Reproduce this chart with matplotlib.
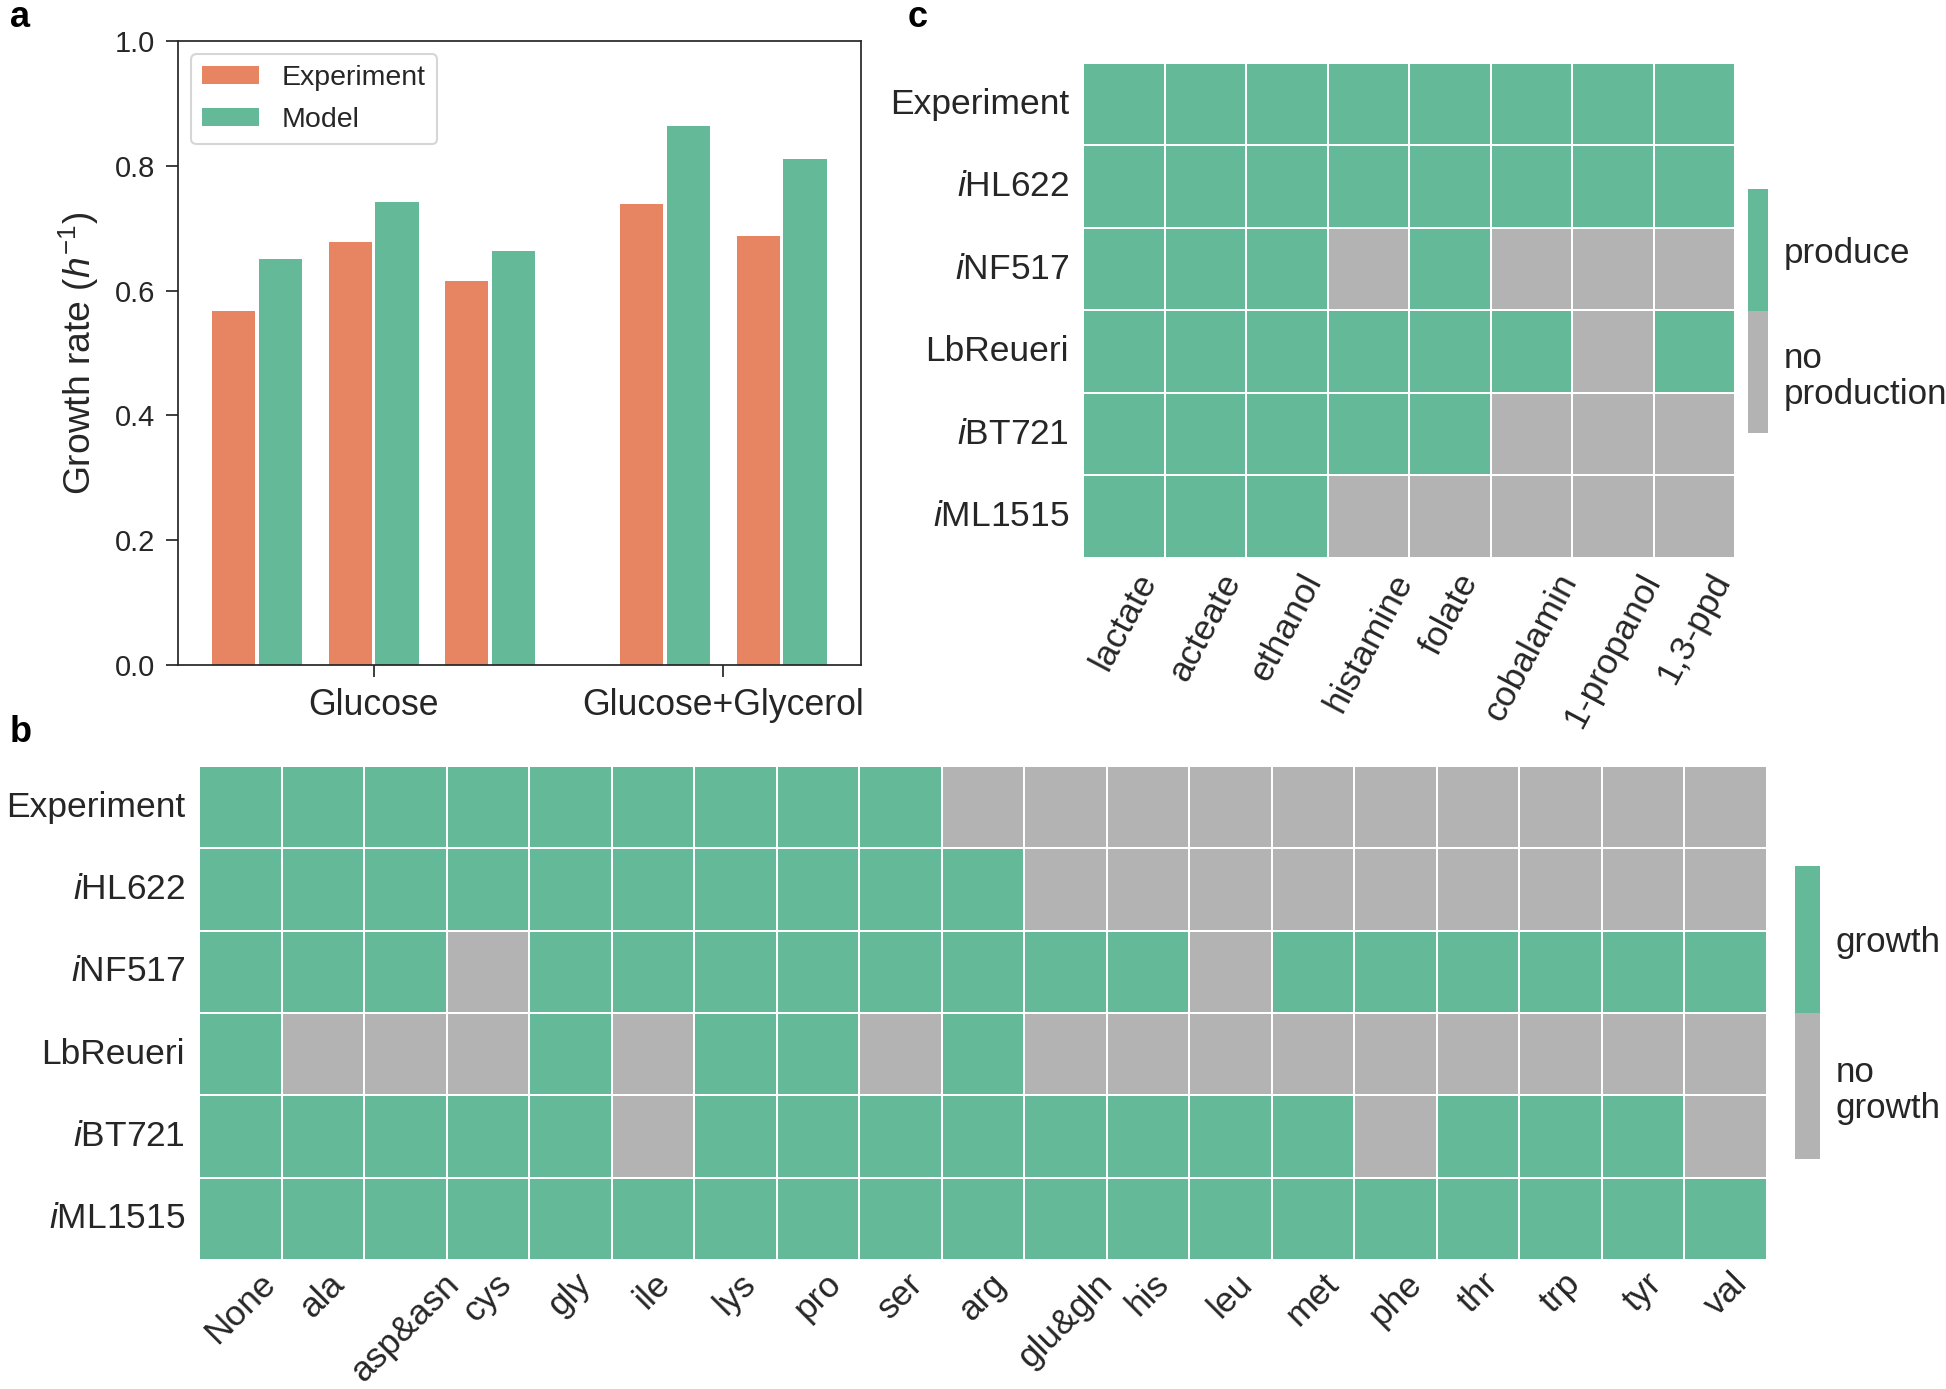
import numpy as np
import matplotlib
matplotlib.use("Agg")
import matplotlib.pyplot as plt
from matplotlib.colors import ListedColormap

plt.rcParams['font.family'] = ['Liberation Sans', 'DejaVu Sans']
plt.rcParams['mathtext.fontset'] = 'custom'
plt.rcParams['mathtext.rm'] = 'Liberation Sans'
plt.rcParams['mathtext.it'] = 'Liberation Sans:italic'
plt.rcParams['mathtext.bf'] = 'Liberation Sans:bold'
plt.rcParams['text.color'] = '0.15'
plt.rcParams['axes.labelcolor'] = '0.15'
plt.rcParams['xtick.color'] = '0.15'
plt.rcParams['ytick.color'] = '0.15'

# ---------------- data ----------------
conditions = ['Glucose', 'Glucose+Glycerol']
pair_condition = ['Glucose', 'Glucose', 'Glucose', 'Glucose+Glycerol', 'Glucose+Glycerol']
experiment = [0.567, 0.678, 0.616, 0.738, 0.688]
model = [0.650, 0.742, 0.664, 0.863, 0.811]
series_labels = ['Experiment', 'Model']

model_rows = ['Experiment', r'$\mathit{i}$HL622', r'$\mathit{i}$NF517', 'LbReueri',
              r'$\mathit{i}$BT721', r'$\mathit{i}$ML1515']

aa_cols = ['None', 'ala', 'asp&asn', 'cys', 'gly', 'ile', 'lys', 'pro', 'ser', 'arg',
           'glu&gln', 'his', 'leu', 'met', 'phe', 'thr', 'trp', 'tyr', 'val']
growth = [
    [1, 1, 1, 1, 1, 1, 1, 1, 1, 0, 0, 0, 0, 0, 0, 0, 0, 0, 0],
    [1, 1, 1, 1, 1, 1, 1, 1, 1, 1, 0, 0, 0, 0, 0, 0, 0, 0, 0],
    [1, 1, 1, 0, 1, 1, 1, 1, 1, 1, 1, 1, 0, 1, 1, 1, 1, 1, 1],
    [1, 0, 0, 0, 1, 0, 1, 1, 0, 1, 0, 0, 0, 0, 0, 0, 0, 0, 0],
    [1, 1, 1, 1, 1, 0, 1, 1, 1, 1, 1, 1, 1, 1, 0, 1, 1, 1, 0],
    [1, 1, 1, 1, 1, 1, 1, 1, 1, 1, 1, 1, 1, 1, 1, 1, 1, 1, 1],
]
growth_labels = ['no\ngrowth', 'growth']

met_cols = ['lactate', 'acteate', 'ethanol', 'histamine', 'folate', 'cobalamin',
            '1-propanol', '1,3-ppd']
production = [
    [1, 1, 1, 1, 1, 1, 1, 1],
    [1, 1, 1, 1, 1, 1, 1, 1],
    [1, 1, 1, 0, 1, 0, 0, 0],
    [1, 1, 1, 1, 1, 1, 0, 1],
    [1, 1, 1, 1, 1, 0, 0, 0],
    [1, 1, 1, 0, 0, 0, 0, 0],
]
production_labels = ['no\nproduction', 'produce']

ORANGE = '#E78563'
GREEN = '#64B998'
GRAY = '#B3B3B3'
DARK = '0.15'

W, H = 1946, 1389
fig = plt.figure(figsize=(W / 100, H / 100), dpi=100)

def fr(l, t, r, b):
    return [l / W, 1 - b / H, (r - l) / W, (b - t) / H]

# ---------------- panel a ----------------
ax = fig.add_axes(fr(178, 41, 861, 665))
pos = np.array([0, 1, 2, 3.5, 4.5])
bw = 0.37
ax.bar(pos - 0.2, experiment, width=bw, color=ORANGE, label=series_labels[0])
ax.bar(pos + 0.2, model, width=bw, color=GREEN, label=series_labels[1])
ax.set_xlim(-0.678, 5.18)
ax.set_ylim(0, 1.0)
cond_pos = [pos[[i for i, c in enumerate(pair_condition) if c == cond]].mean() for cond in conditions]
ax.set_xticks(cond_pos)
ax.set_xticklabels(conditions, fontsize=25.7)
ax.set_yticks(np.arange(0, 1.01, 0.2))
ax.set_yticklabels([f'{v:.1f}' for v in np.arange(0, 1.01, 0.2)], fontsize=21)
ax.tick_params(axis='both', length=8.6, width=1.25, color=DARK, direction='out')
ax.tick_params(axis='y', pad=8)
ax.tick_params(axis='x', pad=8)
for s in ax.spines.values():
    s.set_color(DARK)
    s.set_linewidth(1.25)
ax.set_ylabel('Growth rate ($h^{-1}$)', fontsize=26.8, labelpad=10)
leg = ax.legend(loc='upper left', fontsize=20.5, frameon=True, fancybox=True,
                handlelength=2.0, handleheight=0.6, handletextpad=0.8,
                labelspacing=0.55, borderaxespad=0.45)
leg.get_frame().set_edgecolor('0.8')
leg.get_frame().set_linewidth(1.5)

# ---------------- heatmaps ----------------
cmap = ListedColormap([GRAY, GREEN])

def heat(axh, data, rows, cols, rot, xpad):
    arr = np.array(data)
    m = axh.pcolormesh(arr, cmap=cmap, vmin=0, vmax=1, edgecolors='white', linewidth=1.3)
    axh.set_xlim(0, arr.shape[1])
    axh.set_ylim(arr.shape[0], 0)
    axh.set_xticks(np.arange(arr.shape[1]) + 0.5)
    axh.set_xticklabels(cols, rotation=rot, ha='center', fontsize=25.5)
    axh.set_yticks(np.arange(arr.shape[0]) + 0.5)
    axh.set_yticklabels(rows, fontsize=25.5, va='center')
    axh.tick_params(axis='both', length=0)
    axh.tick_params(axis='y', pad=10)
    axh.tick_params(axis='x', pad=xpad)
    for s in axh.spines.values():
        s.set_visible(False)
    return m

def cbar(mesh, rect, labels):
    cax = fig.add_axes(rect)
    cb = fig.colorbar(mesh, cax=cax)
    cb.outline.set_visible(False)
    cb.set_ticks([0.25, 0.75])
    cb.set_ticklabels(labels, fontsize=25.2)
    cax.tick_params(length=0, pad=11)
    for t in cax.get_yticklabels():
        t.set_linespacing(1.1)
    return cb

axb = fig.add_axes(fr(199, 766, 1767, 1260))
mb = heat(axb, growth, model_rows, aa_cols, 45, 5)
cbar(mb, fr(1795, 866, 1820, 1159), growth_labels)

axc = fig.add_axes(fr(1083, 63, 1735, 558))
mc = heat(axc, production, model_rows, met_cols, 62, 7)
cbar(mc, fr(1748, 189, 1768, 433), production_labels)

# panel labels
fig.text(10 / W, 1 - 27 / H, 'a', fontsize=26, fontweight='bold', color='black', va='baseline')
fig.text(10 / W, 1 - 742 / H, 'b', fontsize=26, fontweight='bold', color='black', va='baseline')
fig.text(908 / W, 1 - 27 / H, 'c', fontsize=26, fontweight='bold', color='black', va='baseline')

fig.savefig('out.png', dpi=100, facecolor='white')
